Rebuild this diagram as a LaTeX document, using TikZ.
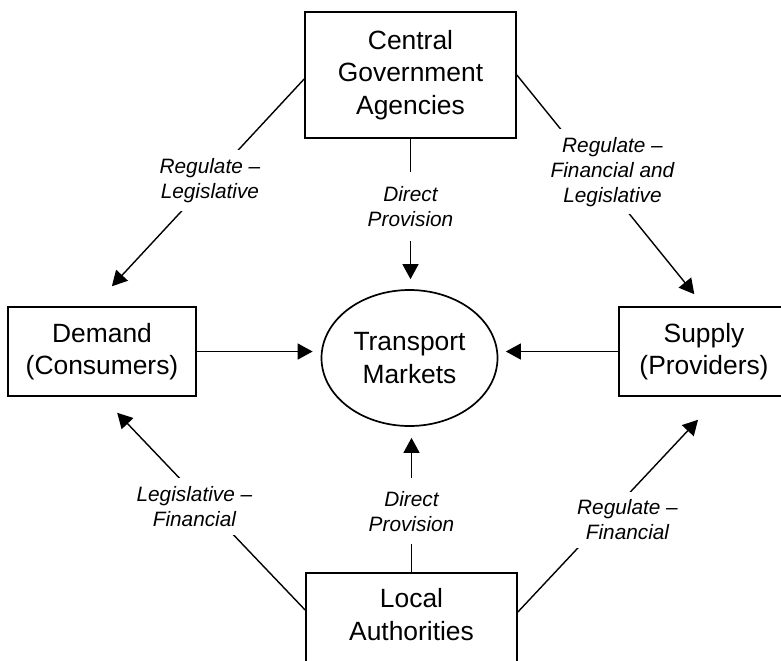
\documentclass[tikz,border=0pt]{standalone}
\usepackage{fontspec}
\setmainfont{Liberation Sans}
\usetikzlibrary{shapes,arrows.meta,positioning}

\begin{document}
\begin{tikzpicture}[x=0.5pt,y=-0.5pt,
    box/.style={draw, line width=0.85pt, align=center, font=\fontsize{13.2}{16.3}\selectfont},
    lbl/.style={fill=white, align=center, inner sep=4pt, font=\itshape\fontsize{10.4}{12.5}\selectfont},
    arr/.style={line width=0.7pt, -{Triangle[length=7.5pt,width=8pt]}},
  ]
\useasboundingbox (0,0) rectangle (781,660);
\node[box, minimum width=105.5pt, minimum height=63pt] (gov) at (410.5,75) {Central\\Government\\Agencies};
\node[box, minimum width=94pt, minimum height=44.5pt] (demand) at (102,351.5) {Demand\\(Consumers)};
\node[box, minimum width=85pt, minimum height=44.5pt] (supply) at (704,351.5) {Supply\\(Providers)};
\node[box, ellipse, inner sep=0pt, minimum width=88pt, minimum height=68pt] (market) at (409.5,358) {Transport\\Markets};
\node[box, anchor=north, minimum width=105.5pt, inner ysep=8pt, text depth=40pt] (local) at (411.5,572) {Local\\Authorities};

\draw[arr, shorten >=4pt] (demand.east) -- (demand.east -| market.west);
\draw[arr, shorten >=3.75pt] (supply.west) -- (supply.west -| market.east);
\draw[arr, shorten >=5pt] (gov.south) -- node[lbl, inner ysep=7pt, pos=0.45] {Direct\\Provision} (gov.south |- market.north);
\draw[arr, shorten >=5.5pt] (local.north) -- node[lbl, inner ysep=6.5pt, pos=0.418] {Direct\\Provision} (local.north |- market.south);

\draw[arr, shorten >=13.6pt] ([yshift=-2pt]gov.west) -- node[lbl, pos=0.447] {Regulate --\\Legislative} ([xshift=-4.3pt]demand.north);
\draw[arr, shorten >=7.7pt] (gov.east) -- node[lbl, pos=0.418, xshift=8.7pt] {Regulate --\\Financial and\\Legislative} (supply.north);
\draw[arr, shorten >=11pt] ([yshift=-19pt]local.north west) -- node[lbl, pos=0.486, xshift=-6pt] {Legislative --\\Financial} (demand.south);
\draw[arr, shorten >=15.7pt] ([yshift=-20pt]local.north east) -- node[lbl, pos=0.4286, xshift=11.6pt] {Regulate --\\Financial} ([xshift=7.75pt]supply.south);
\end{tikzpicture}
\end{document}
